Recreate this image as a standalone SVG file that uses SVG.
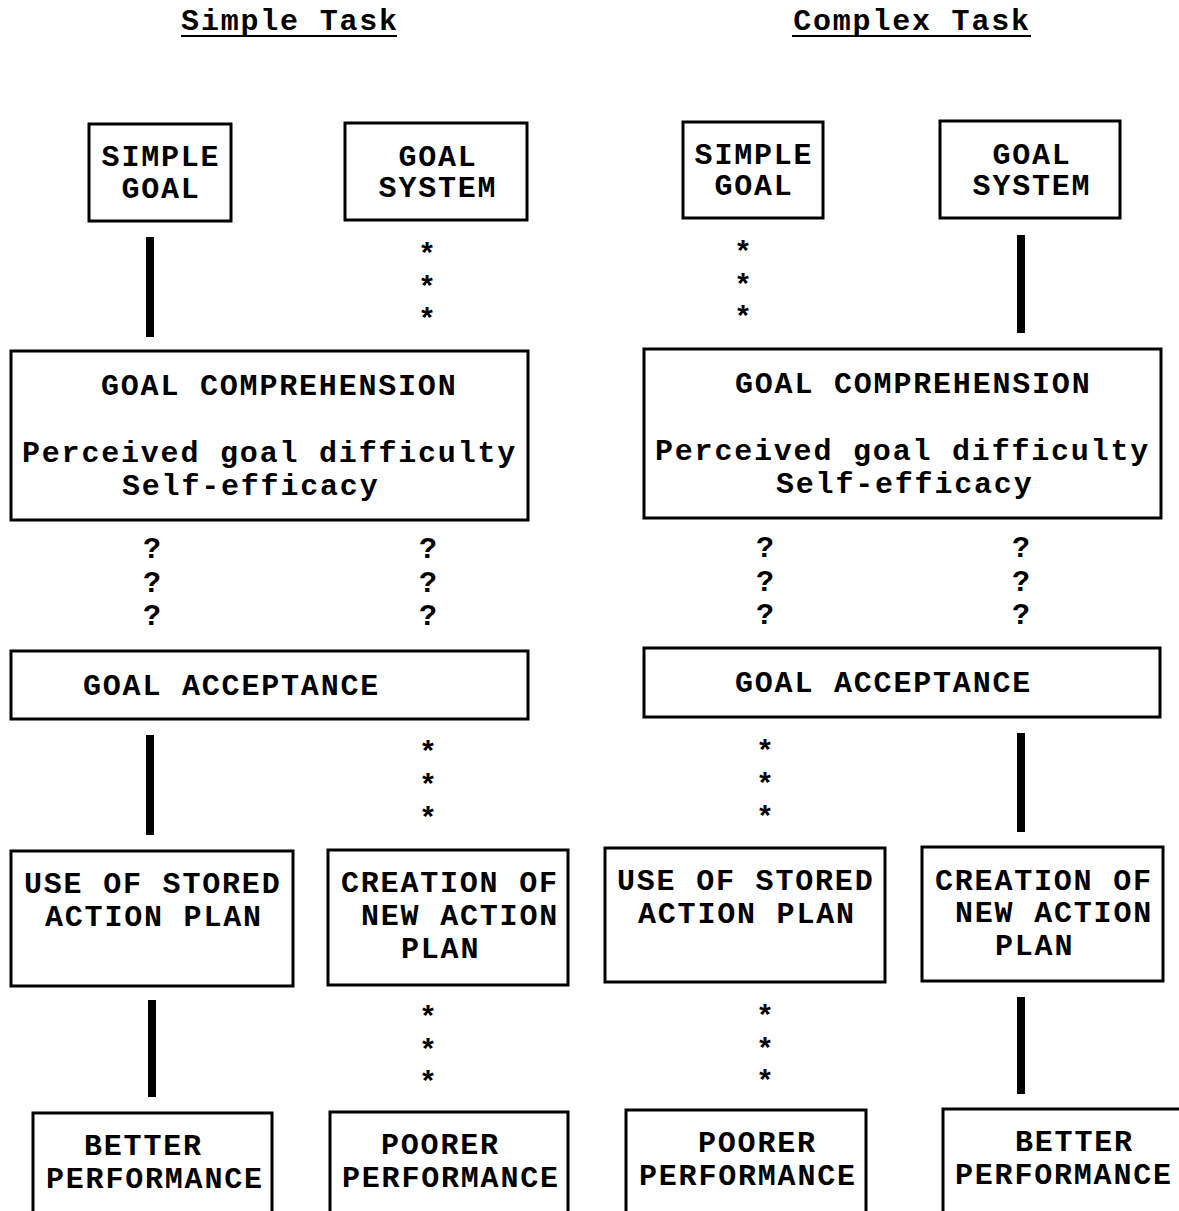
<svg xmlns="http://www.w3.org/2000/svg" width="1179" height="1211" viewBox="0 0 1179 1211">
<style>
text{font-family:"Liberation Mono","DejaVu Sans Mono",monospace;font-weight:bold;font-size:30px;letter-spacing:1.8px;fill:#000}
.box{fill:#fff;stroke:#000;stroke-width:3}
.bar{stroke:#000;stroke-width:8}
.ul{stroke:#000;stroke-width:2}
.m{text-anchor:middle}
</style>
<rect width="1179" height="1211" fill="#fff"/>
<g id="titles">
<text x="290" y="30" class="m">Simple Task</text>
<line class="ul" x1="181" y1="36" x2="397" y2="36"/>
<text x="912" y="30" class="m">Complex Task</text>
<line class="ul" x1="792" y1="36" x2="1031" y2="36"/>
</g>
<g id="connectors">
<line class="bar" x1="150" y1="237" x2="150" y2="337"/>
<line class="bar" x1="1021" y1="235" x2="1021" y2="333"/>
<line class="bar" x1="150" y1="735" x2="150" y2="835"/>
<line class="bar" x1="1021" y1="733" x2="1021" y2="832"/>
<line class="bar" x1="152" y1="1000" x2="152" y2="1097"/>
<line class="bar" x1="1021" y1="997" x2="1021" y2="1094"/>
<g class="m">
<text x="428" y="264">*</text><text x="428" y="297">*</text><text x="428" y="329">*</text>
<text x="744" y="262">*</text><text x="744" y="295">*</text><text x="744" y="327">*</text>
<text x="429" y="762">*</text><text x="429" y="795">*</text><text x="429" y="828">*</text>
<text x="766" y="761">*</text><text x="766" y="794">*</text><text x="766" y="827">*</text>
<text x="429" y="1027">*</text><text x="429" y="1060">*</text><text x="429" y="1092">*</text>
<text x="766" y="1026">*</text><text x="766" y="1059">*</text><text x="766" y="1091">*</text>
<text x="153" y="558">?</text><text x="153" y="592">?</text><text x="153" y="625">?</text>
<text x="429" y="558">?</text><text x="429" y="592">?</text><text x="429" y="625">?</text>
<text x="766" y="557">?</text><text x="766" y="591">?</text><text x="766" y="624">?</text>
<text x="1022" y="557">?</text><text x="1022" y="591">?</text><text x="1022" y="624">?</text>
</g>
</g>
<g id="simple-goal-L"><rect class="box" x="89" y="124" width="142" height="97"/>
<text x="161" y="166" class="m">SIMPLE</text><text x="161" y="198" class="m">GOAL</text></g>
<g id="goal-system-L"><rect class="box" x="345" y="123" width="182" height="97"/>
<text x="438" y="166" class="m">GOAL</text><text x="438" y="197" class="m">SYSTEM</text></g>
<g id="simple-goal-R"><rect class="box" x="683" y="122" width="140" height="96"/>
<text x="754" y="164" class="m">SIMPLE</text><text x="754" y="195" class="m">GOAL</text></g>
<g id="goal-system-R"><rect class="box" x="940" y="121" width="180" height="97"/>
<text x="1032" y="164" class="m">GOAL</text><text x="1032" y="195" class="m">SYSTEM</text></g>
<g id="comprehension-L"><rect class="box" x="11" y="351" width="517" height="169"/>
<text x="101" y="395">GOAL COMPREHENSION</text>
<text x="22" y="462">Perceived goal difficulty</text>
<text x="122" y="495">Self-efficacy</text></g>
<g id="comprehension-R"><rect class="box" x="644" y="349" width="517" height="169"/>
<text x="735" y="393">GOAL COMPREHENSION</text>
<text x="655" y="460">Perceived goal difficulty</text>
<text x="776" y="493">Self-efficacy</text></g>
<g id="acceptance-L"><rect class="box" x="11" y="651" width="517" height="68"/>
<text x="83" y="695">GOAL ACCEPTANCE</text></g>
<g id="acceptance-R"><rect class="box" x="644" y="648" width="516" height="69"/>
<text x="735" y="692">GOAL ACCEPTANCE</text></g>
<g id="stored-L"><rect class="box" x="11" y="851" width="282" height="135"/>
<text x="24" y="893">USE OF STORED</text><text x="45" y="926">ACTION PLAN</text></g>
<g id="creation-L"><rect class="box" x="328" y="850" width="240" height="135"/>
<text x="341" y="892">CREATION OF</text><text x="361" y="925">NEW ACTION</text><text x="401" y="958">PLAN</text></g>
<g id="stored-R"><rect class="box" x="605" y="848" width="280" height="134"/>
<text x="617" y="890">USE OF STORED</text><text x="638" y="923">ACTION PLAN</text></g>
<g id="creation-R"><rect class="box" x="922" y="847" width="241" height="134"/>
<text x="935" y="890">CREATION OF</text><text x="955" y="922">NEW ACTION</text><text x="995" y="955">PLAN</text></g>
<g id="better-L"><rect class="box" x="33" y="1113" width="239" height="110"/>
<text x="84" y="1155">BETTER</text><text x="46" y="1188">PERFORMANCE</text></g>
<g id="poorer-L"><rect class="box" x="330" y="1112" width="238" height="110"/>
<text x="381" y="1154">POORER</text><text x="342" y="1187">PERFORMANCE</text></g>
<g id="poorer-R"><rect class="box" x="626" y="1110" width="240" height="110"/>
<text x="698" y="1152">POORER</text><text x="639" y="1185">PERFORMANCE</text></g>
<g id="better-R"><rect class="box" x="943" y="1109" width="240" height="110"/>
<text x="1015" y="1151">BETTER</text><text x="955" y="1184">PERFORMANCE</text></g>
</svg>
